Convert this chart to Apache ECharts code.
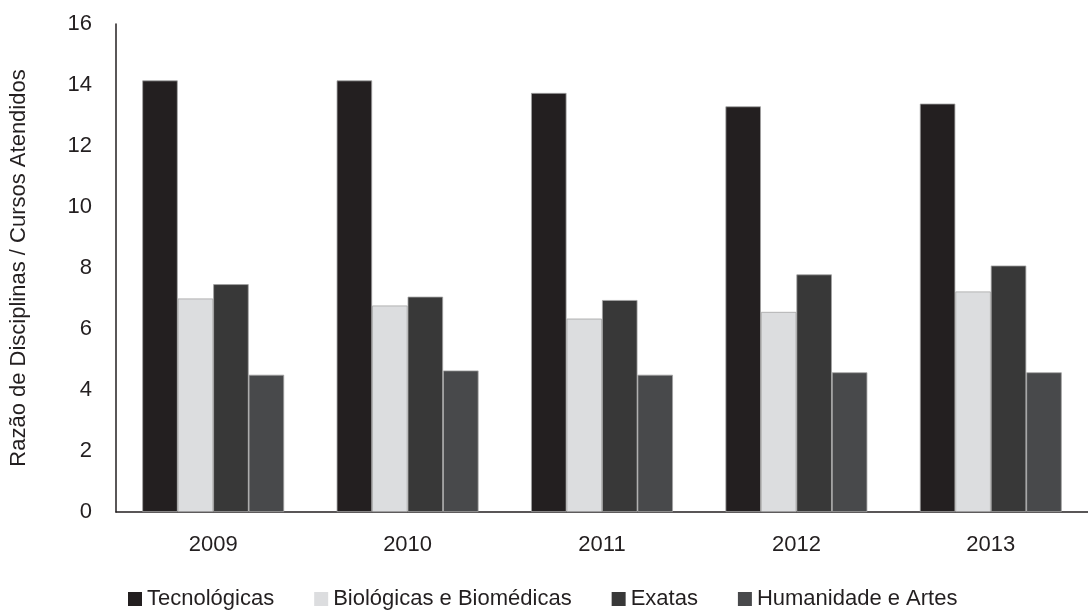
<!DOCTYPE html>
<html>
<head>
<meta charset="utf-8">
<script src="https://cdn.jsdelivr.net/npm/echarts@6/dist/echarts.min.js"></script>
<style>
  html, body { margin: 0; padding: 0; background: #ffffff; }
  #chart { width: 1088px; height: 610px; }
</style>
</head>
<body>
<div id="chart"></div>
<script>
// Years on the category axis
const years = ['2009', '2010', '2011', '2012', '2013'];

// Ratio of disciplines to courses served, per area
const tecnologicas = [14.15, 14.15, 13.74, 13.30, 13.39];
const biologicas   = [7.00, 6.77, 6.34, 6.56, 7.23];
const exatas       = [7.47, 7.06, 6.95, 7.79, 8.08];
const humanidades  = [4.50, 4.64, 4.50, 4.58, 4.58];

const seriesNames = ['Tecnológicas', 'Biológicas e Biomédicas', 'Exatas', 'Humanidade e Artes'];
const seriesData = [tecnologicas, biologicas, exatas, humanidades];
const seriesColors = ['#231f20', '#dcdddf', '#383838', '#48494b'];

const textColor = '#231f20';
const fontFamily = 'Liberation Sans, Arial, sans-serif';

const chart = echarts.init(document.getElementById('chart'), null, { renderer: 'canvas' });

chart.setOption({
  animation: false,
  backgroundColor: '#ffffff',
  textStyle: { fontFamily: fontFamily, color: textColor },
  grid: { left: 116, right: -5, top: 24, bottom: 98, containLabel: false },
  legend: {
    data: seriesNames,
    left: 128,
    top: 588,
    padding: 0,
    icon: 'rect',
    itemWidth: 14,
    itemHeight: 14,
    itemGap: 40,
    itemStyle: { borderWidth: 0 },
    textStyle: { fontSize: 22, color: textColor, fontFamily: fontFamily }
  },
  xAxis: {
    type: 'category',
    data: years,
    axisLine: { show: true, lineStyle: { color: textColor, width: 1.5 } },
    axisTick: { show: false },
    axisLabel: { fontSize: 22, color: textColor, margin: 22, fontFamily: fontFamily },
    splitLine: { show: false }
  },
  yAxis: {
    type: 'value',
    min: 0,
    max: 16,
    interval: 2,
    name: 'Razão de Disciplinas / Cursos Atendidos',
    nameLocation: 'middle',
    nameGap: 86,
    nameRotate: 90,
    nameTextStyle: { fontSize: 22, color: textColor, fontFamily: fontFamily },
    axisLine: { show: true, lineStyle: { color: textColor, width: 1.5 } },
    axisTick: { show: false },
    axisLabel: { fontSize: 22, color: textColor, margin: 24, fontFamily: fontFamily },
    splitLine: { show: false }
  },
  series: seriesNames.map((name, i) => ({
    name: name,
    type: 'bar',
    data: seriesData[i],
    barGap: '0%',
    barCategoryGap: '27%',
    itemStyle: {
      color: seriesColors[i],
      borderColor: '#a3a3a3',
      borderWidth: 0.8
    }
  }))
});
</script>
</body>
</html>
